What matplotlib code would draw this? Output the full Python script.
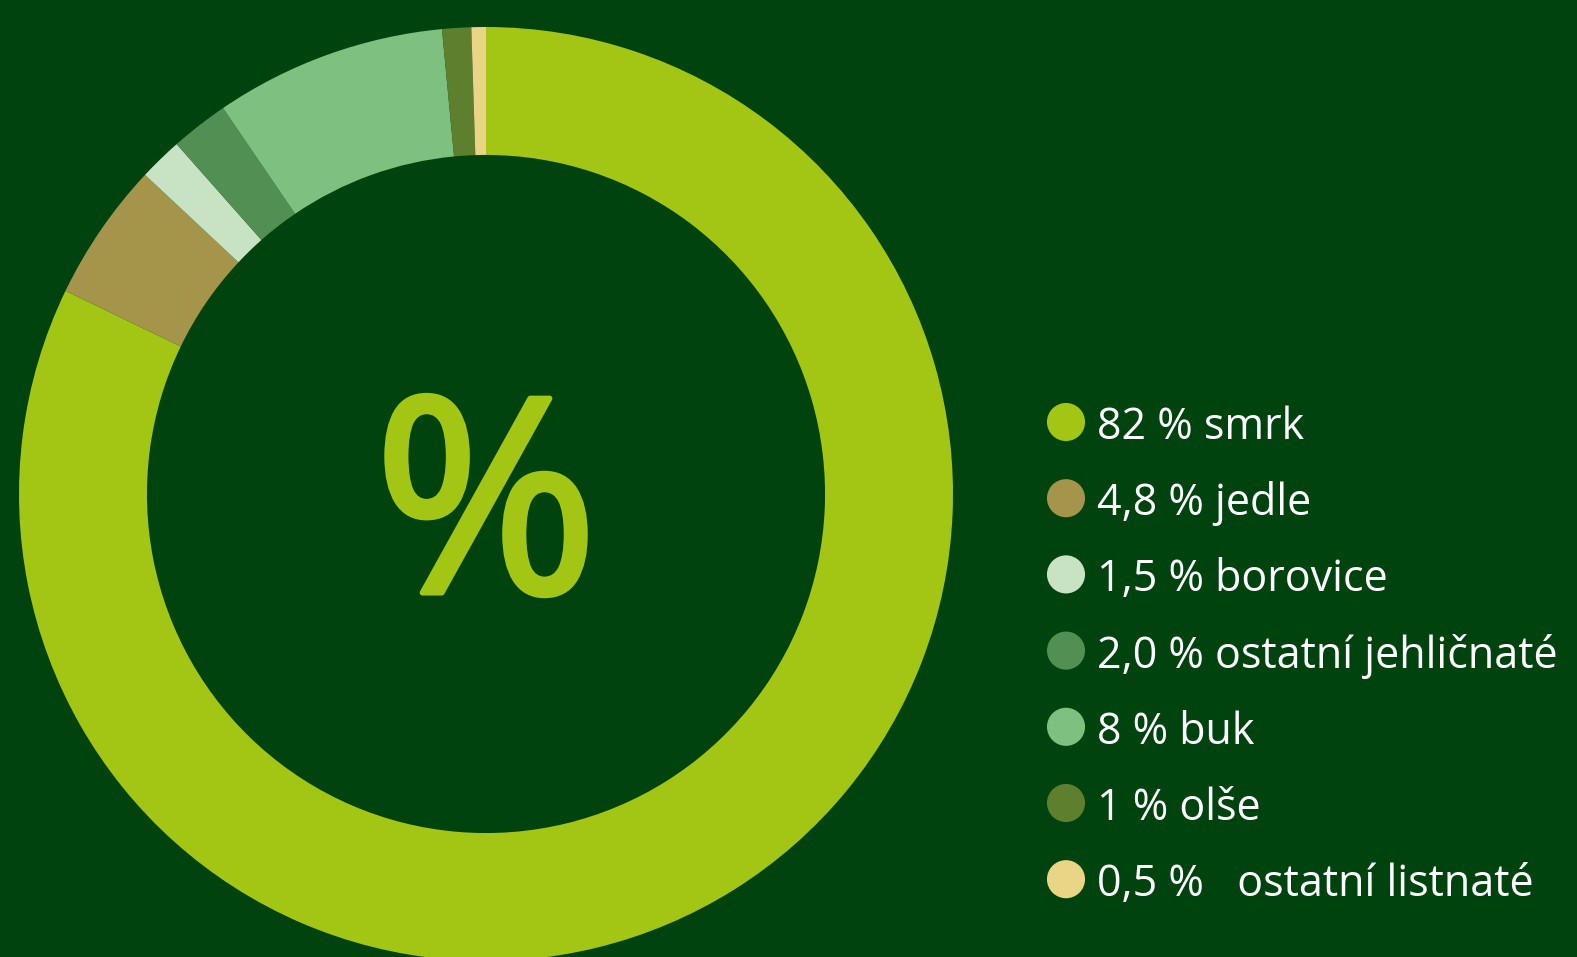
import numpy as np
import matplotlib.pyplot as plt
import matplotlib.patheffects as pe

# data
labels = ['82 % smrk', '4,8 % jedle', '1,5 % borovice', '2,0 % ostatní jehličnaté',
          '8 % buk', '1 % olše', '0,5 %   ostatní listnaté']
values = [82, 4.8, 1.5, 2.0, 8, 1, 0.5]
colours = ['#a3c614', '#a5954b', '#c8e2c4', '#528f52', '#7dc080', '#5e7f2d', '#ead485']
bg = '#00430f'

W, H = 1577, 957

fig = plt.figure(figsize=(W / 100, H / 100), dpi=100, facecolor=bg)
ax = fig.add_axes([0, 0, 1, 1])
ax.set_facecolor(bg)

# donut, clockwise from 12 o'clock
cx, cy, r = 486, H - 494, 467
ax.pie(values, colors=colours, startangle=90, counterclock=False,
       center=(cx, cy), radius=r, frame=True,
       wedgeprops=dict(width=r * 0.274, linewidth=0))
ax.set_xlim(0, W)
ax.set_ylim(0, H)
ax.set_aspect('equal')
ax.axis('off')

# big percent sign, thickened a little with a stroke
ax.text(cx, H - 522, '%', color='#a3c614', fontsize=196, fontfamily='Open Sans',
        ha='center', va='center',
        path_effects=[pe.withStroke(linewidth=4, foreground='#a3c614')])

# legend
ys = H - (422 + 76.2 * np.arange(len(labels)))
ax.scatter(np.full(len(labels), 1066), ys, s=37 ** 2 * 0.55, c=colours, linewidths=0)
for y, lab in zip(ys, labels):
    ax.text(1097, y, lab, color='white', fontsize=31, fontfamily='Open Sans',
            ha='left', va='center_baseline')

fig.savefig('out.png', dpi=100, facecolor=bg)
